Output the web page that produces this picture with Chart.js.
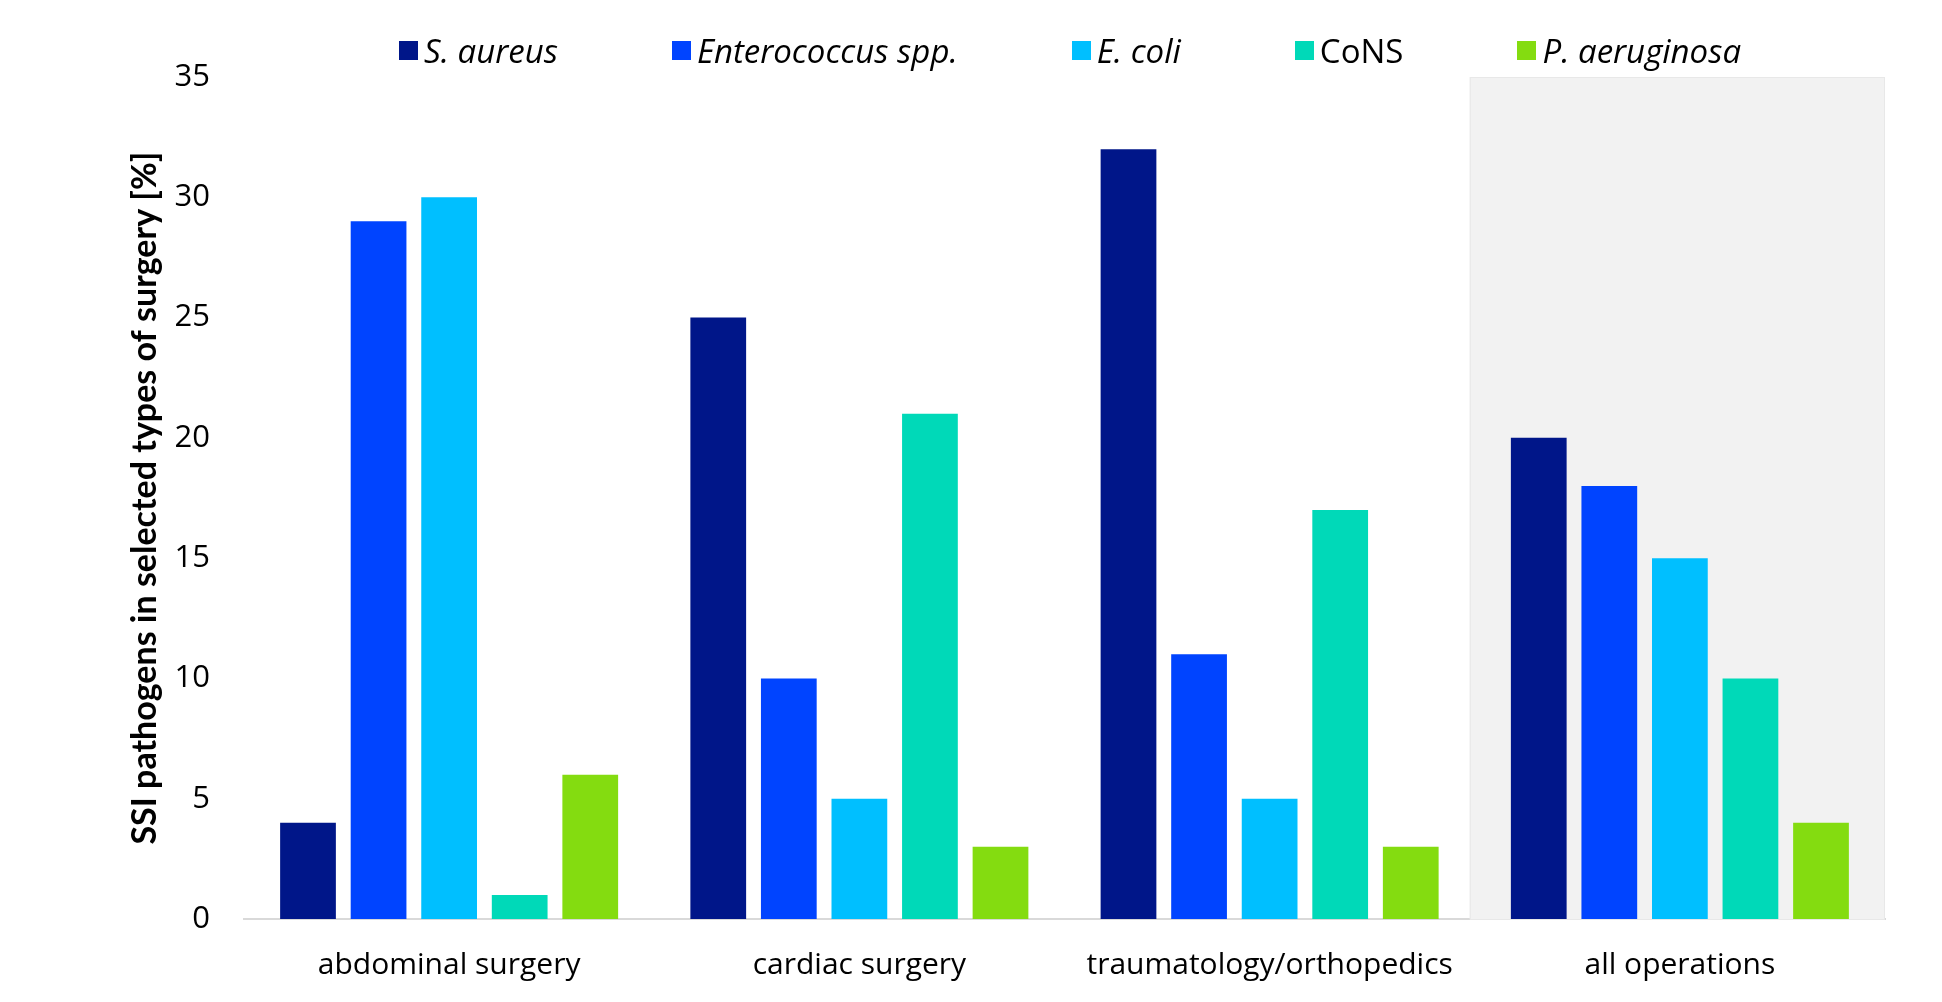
<!DOCTYPE html>
<html>
<head>
<meta charset="utf-8">
<script src="https://cdn.jsdelivr.net/npm/chart.js@4"></script>
<style>
    html, body { margin: 0; padding: 0; background: #fff; }
    #wrap { position: relative; width: 1942px; height: 1002px; }
    #legend {
        position: absolute; left: 399px; top: 28px;
        display: flex; gap: 114px;
        font-family: "Open Sans", Lato, sans-serif; font-size: 33px; color: #000;
    }
    .item { display: flex; align-items: center; white-space: nowrap; }
    .box { width: 19px; height: 19px; margin-right: 6px; }
</style>
</head>
<body>
<div id="wrap">
    <canvas id="chart" width="1942" height="1002"></canvas>
    <div id="legend"></div>
</div>
<script>
const categories = ["abdominal surgery", "cardiac surgery", "traumatology/orthopedics", "all operations"];
const pathogens = ["S. aureus", "Enterococcus spp.", "E. coli", "CoNS", "P. aeruginosa"];
const italicNames = [true, true, true, false, true];
const colors = ["#001689", "#0044ff", "#00bfff", "#00d9b8", "#84dc10"];

// Werte pro Erreger, in Reihenfolge der Kategorien
const sAureus = [4, 25, 32, 20];
const enterococcus = [29, 10, 11, 18];
const eColi = [30, 5, 5, 15];
const cons = [1, 21, 17, 10];
const pAeruginosa = [6, 3, 3, 4];
const seriesValues = [sAureus, enterococcus, eColi, cons, pAeruginosa];

const yTicks = [0, 5, 10, 15, 20, 25, 30, 35];
const highlightIndex = 3; // "all operations" grau hinterlegt

// Legende als HTML, damit Kursivschrift pro Eintrag möglich ist
const legend = document.getElementById("legend");
pathogens.forEach((name, i) => {
    const item = document.createElement("div");
    item.className = "item";
    item.innerHTML = `<span class="box" style="background:${colors[i]}"></span>` +
        `<span style="font-style:${italicNames[i] ? "italic" : "normal"}">${name}</span>`;
    legend.appendChild(item);
});

const highlightPlugin = {
    id: "highlight",
    beforeDatasetsDraw(chart) {
        const { ctx, chartArea, scales: { x } } = chart;
        const half = (x.getPixelForValue(1) - x.getPixelForValue(0)) / 2;
        const cx = x.getPixelForValue(highlightIndex);
        const left = cx - half - 5;
        const right = Math.min(cx + half, chartArea.right);
        ctx.save();
        ctx.fillStyle = "#f2f2f2";
        ctx.fillRect(left, chartArea.top, right - left, chartArea.bottom - chartArea.top);
        ctx.strokeStyle = "#e8e8e8";
        ctx.lineWidth = 1;
        ctx.strokeRect(left + 0.5, chartArea.top + 0.5, right - left - 1, chartArea.bottom - chartArea.top);
        ctx.restore();
    }
};

new Chart(document.getElementById("chart").getContext("2d"), {
    type: "bar",
    data: {
        labels: categories,
        datasets: pathogens.map((name, i) => ({
            label: name,
            data: seriesValues[i],
            backgroundColor: colors[i],
            borderWidth: 0,
            categoryPercentage: 0.86,
            barPercentage: 0.79
        }))
    },
    options: {
        responsive: false,
        animation: false,
        layout: { padding: { top: 77, right: 57, bottom: 0, left: 0 } },
        plugins: { legend: { display: false }, tooltip: { enabled: false } },
        scales: {
            x: {
                afterFit(scale) { scale.height = 83; },
                grid: { display: false, drawTicks: false },
                border: { display: true, color: "#d9d9d9", width: 2 },
                ticks: {
                    padding: 28,
                    color: "#000",
                    font: { family: "'Open Sans', Lato, sans-serif", size: 30 }
                }
            },
            y: {
                min: 0,
                max: 35,
                afterFit(scale) { scale.width = 244; },
                afterBuildTicks(scale) { scale.ticks = yTicks.map(v => ({ value: v })); },
                grid: { display: false, drawTicks: false },
                border: { display: false },
                ticks: {
                    padding: 34,
                    color: "#000",
                    font: { family: "'Open Sans', sans-serif", size: 31 }
                },
                title: {
                    display: true,
                    text: "SSI pathogens in selected types of surgery [%]",
                    color: "#000",
                    padding: { top: 125, bottom: 0 },
                    font: { family: "Lato, 'Open Sans', sans-serif", size: 34, weight: "bold" }
                }
            }
        }
    },
    plugins: [highlightPlugin]
});
</script>
</body>
</html>
